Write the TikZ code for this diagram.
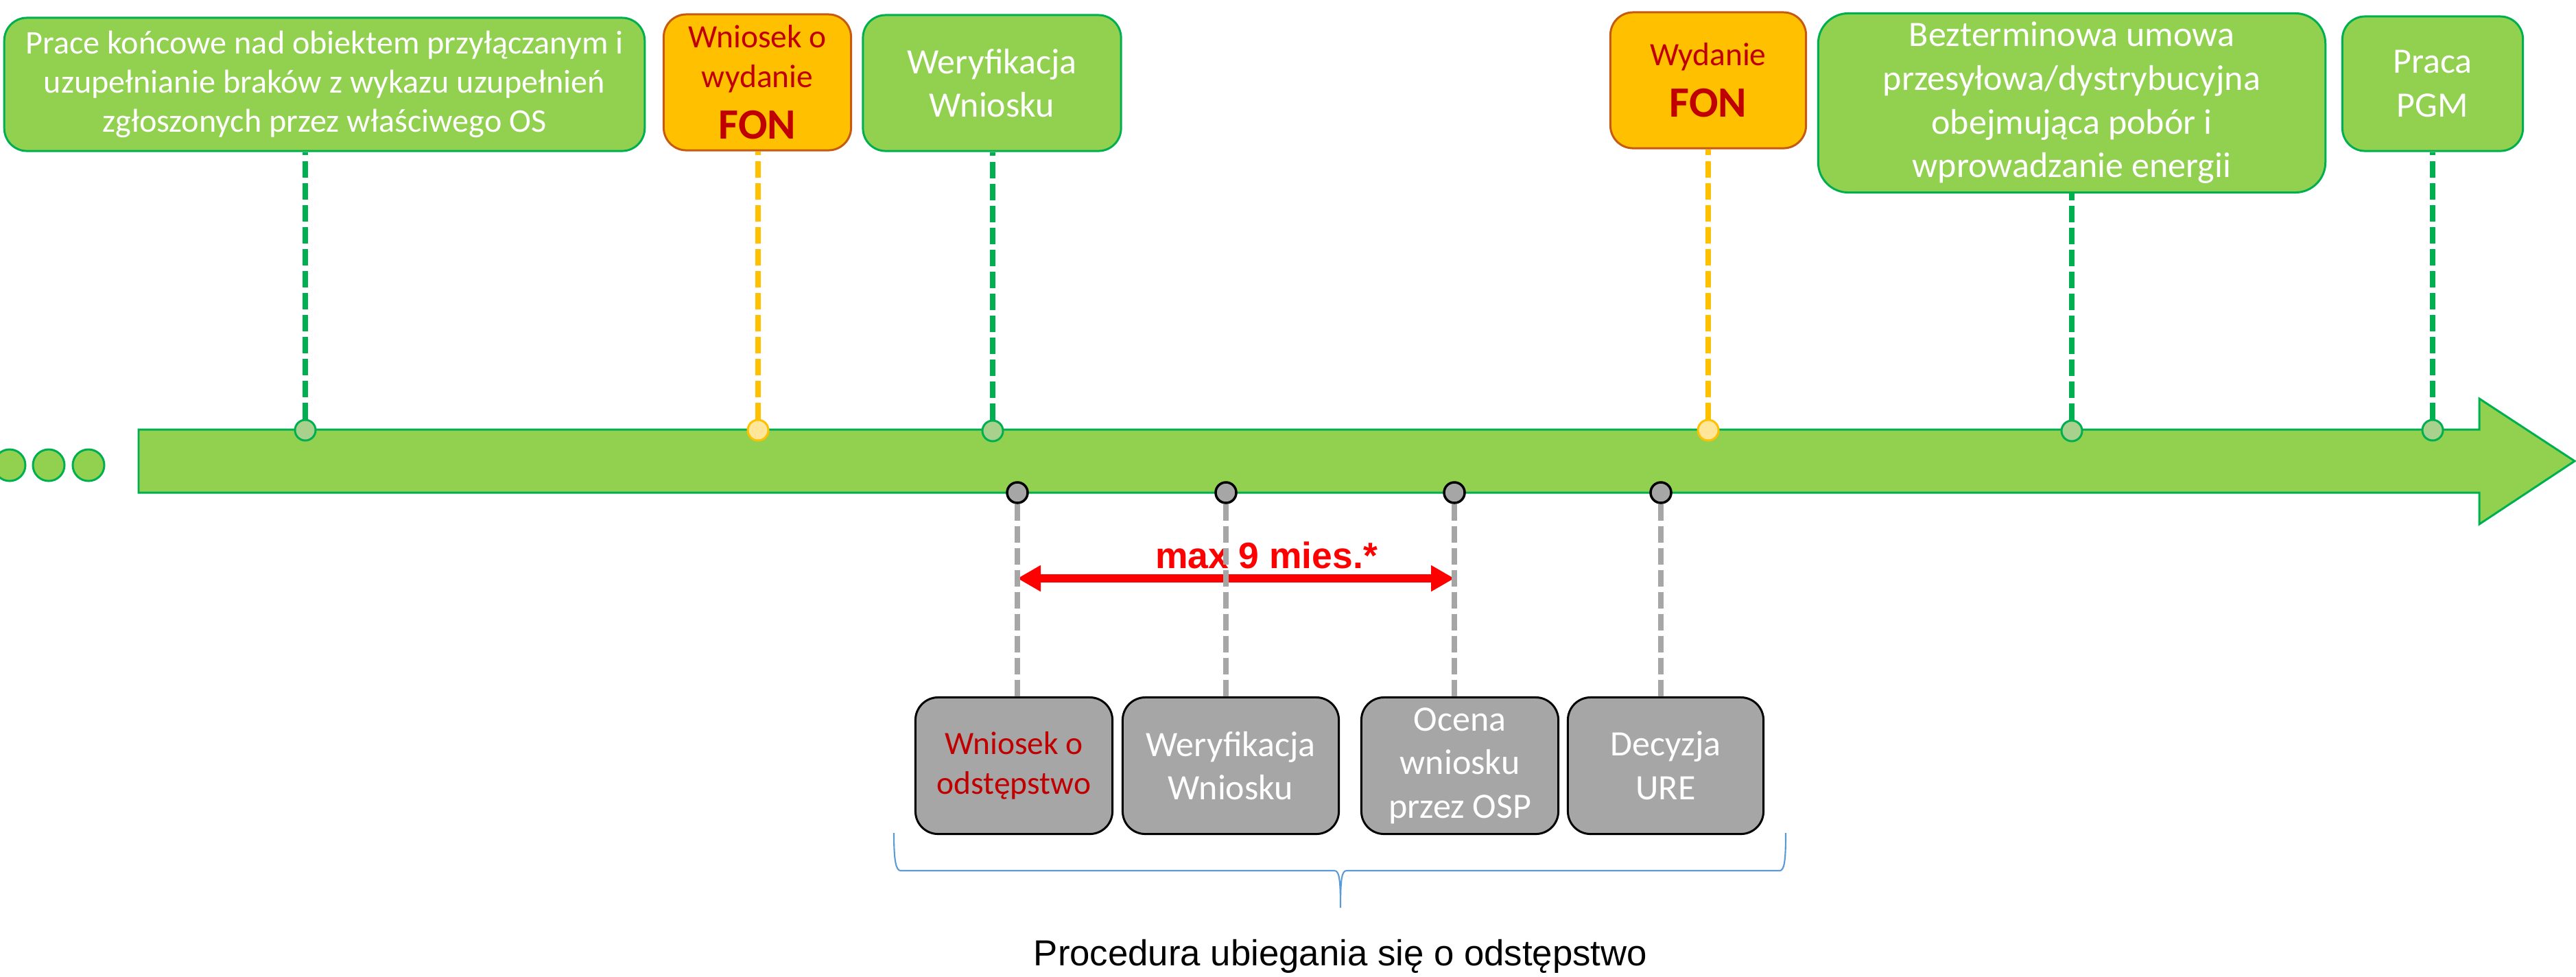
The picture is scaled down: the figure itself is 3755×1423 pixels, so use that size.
\documentclass[tikz,border=0pt]{standalone}
\usepackage{fontspec}
\setmainfont{Carlito}
\newfontfamily\arialfont{Liberation Sans}
\usepackage{tikz}
\usetikzlibrary{positioning, arrows.meta, calc}
\definecolor{linegreen}{HTML}{00B050}
\definecolor{boxgreen}{HTML}{92D050}
\definecolor{dotgreen}{HTML}{A9D18E}
\definecolor{fonorange}{HTML}{FFC000}
\definecolor{fonborder}{HTML}{C55A11}
\definecolor{dotorange}{HTML}{FFE699}
\definecolor{darkred}{HTML}{C00000}
\definecolor{subgrey}{HTML}{A6A6A6}
\definecolor{braceblue}{HTML}{5B9BD5}
\newcommand{\smallfont}{\fontsize{13.5}{16.4}\selectfont}
\newcommand{\largefont}{\fontsize{14.8}{18.1}\selectfont}
\newcommand{\fonfont}{\fontsize{17.9}{21}\selectfont\bfseries}
\tikzset{stage/.style={
    rectangle,
    rounded corners=3.3mm,
    draw=linegreen,
    line width=0.85pt,
    fill=boxgreen,
    text=white,
    align=center,
    inner sep=0pt,
    font=\largefont
}}
\tikzset{fonbox/.style={
    stage,
    draw=fonborder,
    fill=fonorange,
    text=darkred,
    font=\smallfont
}}
\tikzset{substep/.style={
    stage,
    draw=black,
    fill=subgrey,
    minimum width=2.87cm,
    minimum height=1.99cm
}}
\tikzset{milestone/.style={
    circle,
    draw=linegreen,
    fill=dotgreen,
    line width=0.85pt,
    minimum size=3mm,
    inner sep=0pt
}}
\tikzset{fonmark/.style={milestone, draw=fonorange, fill=dotorange}}
\tikzset{submark/.style={milestone, draw=black, fill=subgrey, line width=1pt}}
\tikzset{greenlink/.style={
    draw=linegreen,
    line width=2.3pt,
    dash pattern=on 6.8pt off 2.3pt
}}
\tikzset{orangelink/.style={greenlink, draw=fonorange}}
\tikzset{greylink/.style={greenlink, draw=subgrey}}

\begin{document}
\begin{tikzpicture}[x=0.01cm, y=-0.01cm]
    \useasboundingbox (0,0) rectangle (3755,1423);
    % timeline arrow and the dots before it
    \draw [fill=boxgreen, draw=linegreen, line width=0.85pt]
        (202,626) -- (3614,626) -- (3614,581) -- (3753,672) -- (3614,764) -- (3614,718) -- (202,718) -- cycle;
    \foreach \x [count=\i] in {14,71,129}
        \node (dot\i) [milestone, fill=boxgreen, minimum size=4.6mm] at (\x,678) {};
    % stages above the timeline
    \node (prace) [stage, font=\fontsize{13.7}{16.2}\selectfont, minimum width=9.33cm, minimum height=1.94cm] at (473,123)
        {Prace końcowe nad obiektem przyłączanym i\\uzupełnianie braków z wykazu uzupełnień\\zgłoszonych przez właściwego OS};
    \node (wniosekfon) [fonbox, minimum width=2.73cm, minimum height=1.98cm] at (1104,120)
        {Wniosek o\\wydanie\\[5pt]{\fonfont FON}};
    \node (weryf) [stage, minimum width=3.76cm, minimum height=1.98cm] at (1446,121) {Weryfikacja\\Wniosku};
    \node (wydaniefon) [fonbox, minimum width=2.85cm, minimum height=1.98cm] at (2490,117)
        {Wydanie\\[5pt]{\fonfont FON}};
    \node (umowa) [stage, rounded corners=4.4mm, minimum width=7.39cm, minimum height=2.61cm] at (3020,150)
        {Bezterminowa umowa\\przesyłowa/dystrybucyjna\\obejmująca pobór i\\wprowadzanie energii};
    \node (pgm) [stage, minimum width=2.63cm, minimum height=1.96cm] at (3546,122) {Praca\\PGM};
    % steps of the procedure below
    \node (odst) [substep, text=darkred, font=\smallfont] at (1478,1116) {Wniosek o\\odstępstwo};
    \node (weryfodst) [substep, minimum width=3.15cm] at (1794,1116) {Weryfikacja\\Wniosku};
    \node (ocena) [substep] at (2128,1116) {Ocena\\wniosku\\przez OSP};
    \node (decyzja) [substep, minimum width=2.85cm] at (2428,1116) {Decyzja\\URE};
    % points on the timeline
    \node (m1) [milestone] at (445,627) {};
    \node (m2) [fonmark]   at (1105,627) {};
    \node (m3) [milestone] at (1447,628) {};
    \node (m4) [fonmark]   at (2490,627) {};
    \node (m5) [milestone] at (3020,628) {};
    \node (m6) [milestone] at (3546,627) {};
    \node (g1) [submark] at (1483,718) {};
    \node (g2) [submark] at (1787,718) {};
    \node (g3) [submark] at (2120,718) {};
    \node (g4) [submark] at (2421,718) {};
    % max duration
    \coordinate (limitline) at (1800,843);
    \draw [red, line width=3.4pt, {Triangle[length=3.4mm, width=3.6mm]}-{Triangle[length=3.4mm, width=3.6mm]}]
        (g1 |- limitline) -- (g3 |- limitline);
    \node (limit) [anchor=base, text=red, font=\arialfont\fontsize{15.2}{18}\selectfont\bfseries] at (1846,828) {max 9 mies.*};
    % dashed links
    \draw [greenlink]  (m1) -- (m1 |- prace.south);
    \draw [orangelink] (m2) -- (m2 |- wniosekfon.south);
    \draw [greenlink]  (m3) -- (m3 |- weryf.south);
    \draw [orangelink] (m4) -- (m4 |- wydaniefon.south);
    \draw [greenlink]  (m5) -- (m5 |- umowa.south);
    \draw [greenlink]  (m6) -- (m6 |- pgm.south);
    \draw [greylink] (g1) -- (g1 |- odst.north);
    \draw [greylink] (g2) -- (g2 |- weryfodst.north);
    \draw [greylink] (g3) -- (g3 |- ocena.north);
    \draw [greylink] (g4) -- (g4 |- decyzja.north);
    % brace under the procedure
    \draw [braceblue, line width=0.6pt]
        (1303,1214) .. controls (1303,1255) and (1306,1269) .. (1313,1269) -- (1945,1269)
        .. controls (1952,1269) and (1954,1280) .. (1954,1323)
        .. controls (1954,1280) and (1956,1269) .. (1963,1269) -- (2594,1269)
        .. controls (2601,1269) and (2603,1255) .. (2603,1214);
    \node (procedura) [anchor=base, font=\arialfont\fontsize{15}{18}\selectfont] at (1954,1407)
        {Procedura ubiegania się o odstępstwo};
\end{tikzpicture}
\end{document}
